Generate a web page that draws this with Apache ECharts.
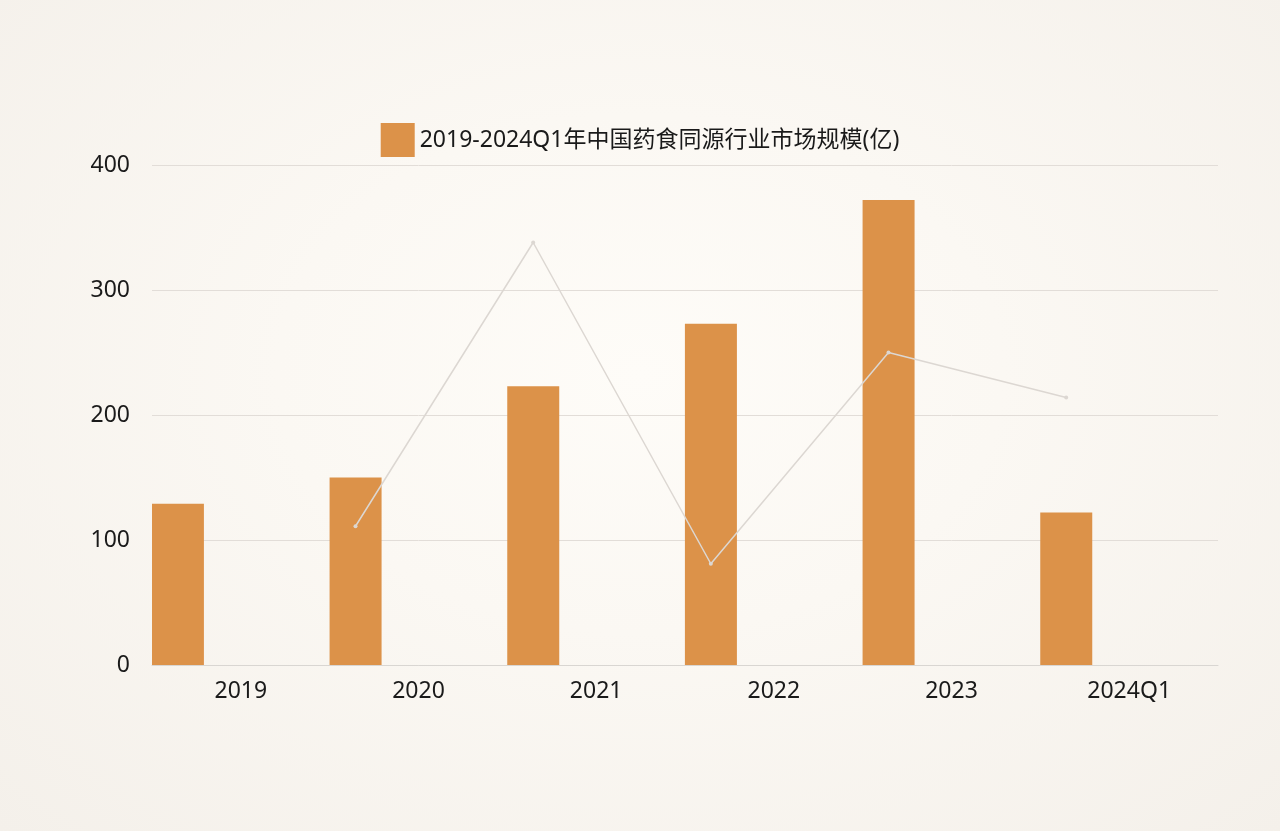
<!DOCTYPE html>
<html><head><meta charset="utf-8">
<script src="https://cdn.jsdelivr.net/npm/echarts@6/dist/echarts.min.js"></script>
<style>html,body{margin:0;height:100%;}
#c{width:1280px;height:831px;background:radial-gradient(ellipse at 50% 45%,#fefcf8 0%,#fbf8f3 40%,#f4f0ea 100%);}</style>
</head><body><div id="c"></div>
<script>
const categories = ['2019','2020','2021','2022','2023','2024Q1'];
const marketSize = [129,150,223,273,372,122];
const trendLine = [null,111,338,81,250,214];
const yTicks = [0,100,200,300,400];

const chart = echarts.init(document.getElementById('c'));
const txt = {color:'#1a1a1a',fontSize:23,fontFamily:'"Noto Sans","Noto Sans CJK SC",sans-serif'};
chart.setOption({
  animation:false,
  legend:{top:118,left:'center',icon:'rect',itemWidth:34,itemHeight:34,itemGap:8,textStyle:txt,data:['2019-2024Q1年中国药食同源行业市场规模(亿)']},
  grid:[{left:152,right:62,top:165,bottom:166},{left:89,right:125,top:165,bottom:166}],
  xAxis:[
    {type:'category',gridIndex:0,data:categories,axisLine:{lineStyle:{color:'#d9d6d2'}},axisTick:{show:false},axisLabel:{...txt,margin:15}},
    {type:'category',gridIndex:1,data:categories,show:false}
  ],
  yAxis:[
    {type:'value',gridIndex:0,min:yTicks[0],max:yTicks[yTicks.length-1],interval:100,axisLabel:{...txt,margin:22},splitLine:{lineStyle:{color:'#e2ddd8'}},axisLine:{show:false},axisTick:{show:false}},
    {type:'value',gridIndex:1,min:0,max:400,show:false}
  ],
  series:[
    {name:'2019-2024Q1年中国药食同源行业市场规模(亿)',type:'bar',data:marketSize,barWidth:52,barGap:'142%',itemStyle:{color:'#dc9249'}},
    {name:'pad',type:'bar',data:[],barWidth:52},
    {name:'增速',type:'line',xAxisIndex:1,yAxisIndex:1,data:trendLine,symbol:'circle',symbolSize:4,lineStyle:{color:'#dcd7d2',width:1.5},itemStyle:{color:'#dcd7d2'},z:5}
  ]
});
</script></body></html>
